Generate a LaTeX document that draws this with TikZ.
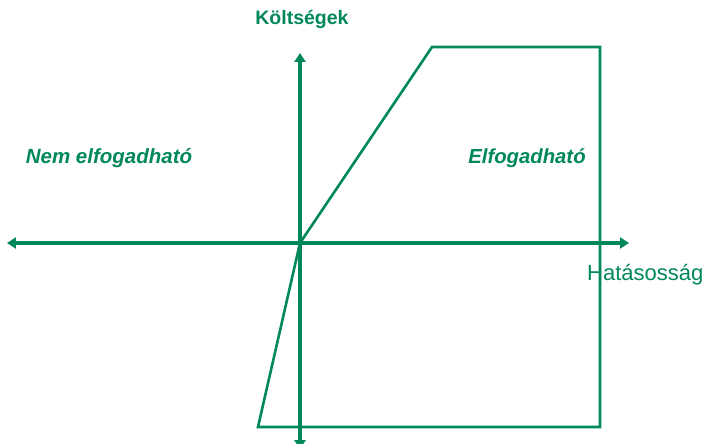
\documentclass[tikz,border=0pt]{standalone}
\usepackage{fontspec}
\setmainfont{Liberation Sans}
\usetikzlibrary{arrows.meta}
\definecolor{axgreen}{HTML}{00875A}

\begin{document}
\begin{tikzpicture}[x=1pt,y=1pt,
    axis/.style={axgreen,line width=4pt,-{Triangle[length=9pt,width=11pt]}},
    zone/.style={axgreen,line width=2.6pt,line join=miter},
    lbl/.style={text=axgreen,inner sep=0pt}]
    \useasboundingbox (-300,-201) rectangle (404,243);
    % axes
    \coordinate (O) at (0,0);
    \coordinate (xl) at (-293,0);
    \coordinate (xr) at (329,0);
    \coordinate (yt) at (0,190);
    \coordinate (yb) at (0,-206);
    \draw[axis] (O) -- (xr);
    \draw[axis] (O) -- (xl);
    \draw[axis] (O) -- (yt);
    \draw[axis] (O) -- (yb);
    % acceptable region
    \draw[zone] (O) -- (132,196) -- (300,196) -- (300,-184) -- (-42,-184) -- cycle;
    \node[lbl,font=\bfseries\fontsize{19.5}{22}\selectfont] (cost) at (2,224) {Költségek};
    \node[lbl,font=\bfseries\itshape\fontsize{20.5}{22}\selectfont] (rej) at (-191,85) {Nem elfogadható};
    \node[lbl,font=\bfseries\itshape\fontsize{20.3}{22}\selectfont] (acc) at (227,85) {Elfogadható};
    \node[lbl,anchor=west,font=\fontsize{22}{24}\selectfont] (eff) at (287,-32) {Hatásosság};
  \end{tikzpicture}
\end{document}
